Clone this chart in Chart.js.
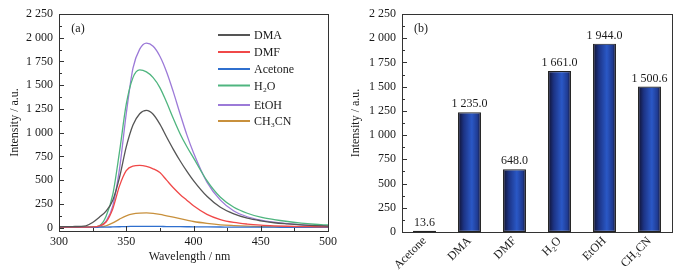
<!DOCTYPE html>
<html>
<head>
<meta charset="utf-8">
<script src="https://cdn.jsdelivr.net/npm/chart.js@4.4.0/dist/chart.umd.min.js"></script>
<style>
  body { margin: 0; background: #fff; }
  #wrap { position: relative; width: 683px; height: 275px; }
  canvas { position: absolute; top: 0; }
</style>
</head>
<body>
<div id="wrap">
  <canvas id="lineChart" width="341" height="275" style="left:0"></canvas>
  <canvas id="barChart" width="342" height="275" style="left:341px"></canvas>
</div>
<script>
// (a) emission spectra
const wavelengths = [300, 310, 320, 325, 330, 335, 340, 345, 350, 355, 360, 365, 370, 375, 380, 385, 390, 395, 400, 410, 420, 430, 440, 450, 460, 470, 480, 490, 500];
const dmaSpectrum     = [10, 12, 20, 55, 110, 175, 290, 530, 850, 1080, 1200, 1235, 1195, 1090, 955, 825, 705, 595, 495, 330, 215, 145, 100, 72, 52, 40, 30, 22, 16];
const dmfSpectrum     = [5, 5, 6, 8, 20, 60, 200, 440, 600, 648, 655, 645, 620, 580, 500, 420, 350, 290, 230, 140, 85, 55, 38, 27, 20, 15, 12, 10, 8];
const acetoneSpectrum = [3, 3, 4, 4, 5, 6, 8, 10, 12, 13, 14, 14, 13, 13, 12, 12, 11, 10, 9, 8, 7, 6, 6, 5, 5, 4, 4, 3, 3];
const waterSpectrum   = [8, 8, 9, 10, 20, 120, 350, 800, 1300, 1580, 1661, 1640, 1580, 1475, 1320, 1150, 990, 855, 735, 495, 320, 215, 152, 110, 85, 65, 48, 36, 28];
const ethanolSpectrum = [6, 6, 7, 8, 15, 70, 230, 620, 1200, 1680, 1880, 1944, 1910, 1805, 1640, 1430, 1200, 980, 790, 480, 290, 175, 115, 80, 58, 42, 30, 22, 16];
const mecnSpectrum    = [3, 3, 4, 5, 8, 20, 50, 90, 125, 145, 153, 155, 150, 140, 125, 110, 95, 80, 65, 45, 30, 22, 16, 12, 9, 7, 5, 4, 3];

const seriesNames  = ['DMA', 'DMF', 'Acetone', 'H₂O', 'EtOH', 'CH₃CN'];
const seriesColors = ['#555555', '#f04848', '#2f6fce', '#4fb57f', '#9c7ad8', '#c8903c'];
const seriesData   = [dmaSpectrum, dmfSpectrum, acetoneSpectrum, waterSpectrum, ethanolSpectrum, mecnSpectrum];

// (b) peak intensities
const solvents   = ['Acetone', 'DMA', 'DMF', 'H₂O', 'EtOH', 'CH₃CN'];
const peakValues = [13.6, 1235.0, 648.0, 1661.0, 1944.0, 1500.6];

const yTickValues = [0, 250, 500, 750, 1000, 1250, 1500, 1750, 2000, 2250];
const xTickValues = [300, 350, 400, 450, 500];

const FONT = '"Liberation Serif", "Times New Roman", serif';
const TEXT = '#1a1a1a';
const legendRows = [35, 52, 69, 85.5, 105, 121];

function spaced(v) {
  // 2250 -> "2 250"
  const s = String(v);
  const [int, dec] = s.split('.');
  const i = int.length > 3 ? int.slice(0, -3) + ' ' + int.slice(-3) : int;
  return dec !== undefined ? i + '.' + dec : i;
}

// frame, inward ticks, titles
function decorPlugin(opts) {
  return {
    id: 'decor',
    afterDraw(chart) {
      const { ctx, chartArea: a, scales } = chart;
      ctx.save();
      ctx.strokeStyle = '#333';
      ctx.lineWidth = 1;
      ctx.strokeRect(a.left + 0.5, a.top + 0.5, a.right - a.left, a.bottom - a.top);

      for (let v = 0; v <= 2250; v += 125) {
        const py = Math.round(scales.y.getPixelForValue(v)) + 0.5;
        const len = v % 250 === 0 ? 5 : 3;
        ctx.beginPath();
        ctx.moveTo(a.left, py);
        ctx.lineTo(a.left + len, py);
        ctx.stroke();
      }
      if (opts.xMinor) {
        for (let v = 300; v <= 500; v += 25) {
          const px = Math.round(scales.x.getPixelForValue(v)) + 0.5;
          const len = v % 50 === 0 ? 5 : 3;
          ctx.beginPath();
          ctx.moveTo(px, a.bottom);
          ctx.lineTo(px, a.bottom - len);
          ctx.stroke();
        }
      }

      ctx.fillStyle = TEXT;
      ctx.font = '12px ' + FONT;
      ctx.textAlign = 'center';
      ctx.textBaseline = 'middle';
      ctx.fillText(opts.label, a.left + 19, 29);

      ctx.save();
      ctx.translate(15, (a.top + a.bottom) / 2);
      ctx.rotate(-Math.PI / 2);
      ctx.fillText('Intensity / a.u.', 0, 0);
      ctx.restore();

      if (opts.xTitle) {
        ctx.fillText(opts.xTitle, (a.left + a.right) / 2 - 4, 257);
      }

      if (opts.legend) {
        ctx.textAlign = 'left';
        chart.data.datasets.forEach((ds, i) => {
          const y = legendRows[i];
          ctx.strokeStyle = ds.borderColor;
          ctx.lineWidth = 2;
          ctx.beginPath();
          ctx.moveTo(218, y);
          ctx.lineTo(250, y);
          ctx.stroke();
          ctx.fillText(ds.label, 254, y + 1);
        });
      }
      ctx.restore();
    }
  };
}

const hiddenGrid = { display: false, drawTicks: false };

new Chart(document.getElementById('lineChart'), {
  type: 'line',
  data: {
    datasets: seriesNames.map((name, i) => ({
      label: name,
      data: wavelengths.map((w, j) => ({ x: w, y: seriesData[i][j] })),
      borderColor: seriesColors[i],
      borderWidth: 1.3,
      pointRadius: 0,
      cubicInterpolationMode: 'monotone'
    }))
  },
  options: {
    responsive: false,
    animation: false,
    layout: { padding: { top: 14, right: 9, left: 0, bottom: 0 } },
    plugins: { legend: { display: false }, tooltip: { enabled: false } },
    scales: {
      x: {
        type: 'linear',
        min: 300,
        max: 500,
        afterBuildTicks: s => { s.ticks = xTickValues.map(v => ({ value: v })); },
        afterFit: s => { s.height = 44; },
        grid: hiddenGrid,
        border: { display: false },
        ticks: { color: TEXT, font: { family: FONT, size: 12 }, padding: 4, maxRotation: 0 }
      },
      y: {
        min: -35,
        max: 2250,
        afterBuildTicks: s => { s.ticks = yTickValues.map(v => ({ value: v })); },
        afterFit: s => { s.width = 59; },
        grid: hiddenGrid,
        border: { display: false },
        ticks: { color: TEXT, font: { family: FONT, size: 12 }, padding: 6, callback: v => spaced(v) }
      }
    }
  },
  plugins: [decorPlugin({ label: '(a)', xMinor: true, legend: true, xTitle: 'Wavelength / nm' })]
});

// cylinder-like shading on each bar, values on top
const barShading = {
  id: 'barShading',
  beforeDatasetsDraw(chart) {
    const { ctx } = chart;
    chart.getDatasetMeta(0).data.forEach(bar => {
      const l = bar.x - bar.width / 2, r = bar.x + bar.width / 2;
      const g = ctx.createLinearGradient(l, 0, r, 0);
      g.addColorStop(0, '#10102a');
      g.addColorStop(0.25, '#1c3384');
      g.addColorStop(0.6, '#2a58c6');
      g.addColorStop(0.85, '#1f3b92');
      g.addColorStop(1, '#10102a');
      bar.options = Object.assign({}, bar.options, { backgroundColor: g });
    });
  },
  afterDatasetsDraw(chart) {
    const { ctx } = chart;
    ctx.save();
    ctx.fillStyle = TEXT;
    ctx.font = '12px ' + FONT;
    ctx.textAlign = 'center';
    ctx.textBaseline = 'bottom';
    chart.getDatasetMeta(0).data.forEach((bar, i) => {
      ctx.fillText(spaced(peakValues[i].toFixed(1)), bar.x, bar.y - 2);
    });
    ctx.restore();
  }
};

new Chart(document.getElementById('barChart'), {
  type: 'bar',
  data: {
    labels: solvents,
    datasets: [{
      data: peakValues,
      backgroundColor: '#2a58c6',
      borderColor: '#222',
      borderWidth: 1.2,
      borderSkipped: false,
      barPercentage: 0.51,
      categoryPercentage: 1
    }]
  },
  options: {
    responsive: false,
    animation: false,
    layout: { padding: { top: 14, right: 11, left: 0, bottom: 0 } },
    plugins: { legend: { display: false }, tooltip: { enabled: false } },
    scales: {
      x: {
        afterFit: s => { s.height = 43; },
        grid: hiddenGrid,
        border: { display: false },
        ticks: { color: TEXT, font: { family: FONT, size: 12 }, padding: 2, minRotation: 45, maxRotation: 45 }
      },
      y: {
        min: 0,
        max: 2250,
        afterBuildTicks: s => { s.ticks = yTickValues.map(v => ({ value: v })); },
        afterFit: s => { s.width = 61; },
        grid: hiddenGrid,
        border: { display: false },
        ticks: { color: TEXT, font: { family: FONT, size: 12 }, padding: 6, callback: v => spaced(v) }
      }
    }
  },
  plugins: [barShading, decorPlugin({ label: '(b)', xMinor: false, legend: false })]
});
</script>
</body>
</html>
